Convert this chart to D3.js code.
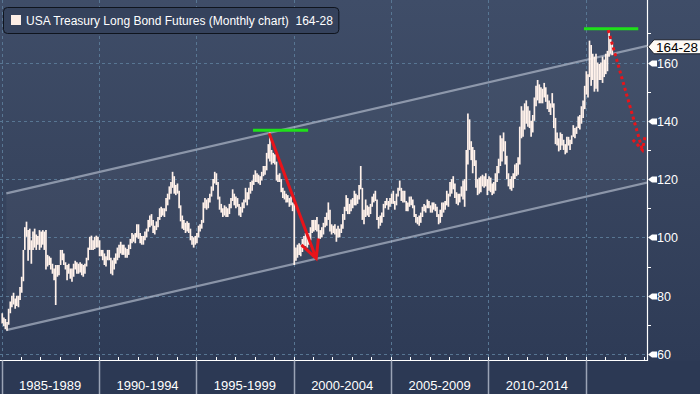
<!DOCTYPE html>
<html>
<head>
<meta charset="utf-8">
<script src="https://cdn.jsdelivr.net/npm/d3@7"></script>
<style>
  body { margin: 0; background: #2c3954; overflow: hidden; }
  svg { display: block; }
  text { font-family: "Liberation Sans", Arial, sans-serif; }
</style>
</head>
<body>
<div id="chart"></div>
<script>
// monthly high / low, one row per year, Jan 1985 .. May 2016
var startYear = 1985;
var highs = [
  74,72.5,72,71,75.5,78,80,81,79,80,80,83,
  86.5,95.7,103.5,105.4,102.5,103,99,102,103,101,100.5,102.5,
  102,102.5,102,102.5,94,93.5,93,91,89.3,90.5,90.5,90.5,
  95.7,95.7,94.5,91.5,90.5,91,89.3,89.3,91,92,91.5,91,
  91.5,91,90.5,91,93,96.5,100.2,100.6,99,100.2,100.6,100.2,
  99,95.7,95.7,94.5,93.5,95.7,95.7,93,92.2,93,94.5,96.5,
  97.5,98.5,97.5,97.5,96.5,96,97.5,99.5,101.5,101,101.5,104.5,
  104.5,101.5,100.5,100.5,102,103,106,107.5,108,106,104,105.5,
  107,110,110.5,110,110,113.5,115,117.5,119,122.5,121,118,
  118.5,116,111,107.5,106,105,105.5,105,103,100.5,100,100.5,
  101.5,104,104.5,106,112,113.5,113,113.5,115,117.5,120,122.5,
  122,119,114,111.5,110,111,110.5,110,111.5,113.5,116.5,115,
  114,113.5,111.5,110.5,112,113,117,115.5,117,119,119.5,121.5,
  123,122,121.5,121,122.5,124.5,124.5,129,132,136,130,129,
  128.5,126,121.5,122,120,117,116,115,114.5,113.5,114,112,
  111.5,96.5,97.5,98,97.5,99.5,100.5,101.5,100.5,101.5,103.5,106,
  106,106,107,104.5,102.5,103.5,105,107,108.5,112,109.5,104.5,
  104,104.5,103,104,103,104.5,108,110.5,114.5,113.5,111.5,113,
  113.5,116,115,114.5,118,124.5,117,109.5,113,111,110.5,111.5,
  114,115,116,113,107,107.5,108.5,111.5,112.5,113.5,112.5,113.5,
  115,116,112.5,115,117,119.5,117,116,116,112.5,112,114,
  114,113,111,108,107,107.5,108.5,110.5,111.5,111,113,112.5,
  111,112,112,111.5,110.5,108,109.5,112,112,112.5,116,115,
  119,120,121,118.5,115.5,115,115,117.5,119.5,120,130,142.5,
  140.5,133,131,130,126.5,120,120.5,121,121.5,121,122,120,
  121,120.5,118.5,119,122,124.5,127,135,134,136,133,128,
  122,120,121,122,125,125.5,127.5,138,145,143.5,146,147,
  145,143.5,140,142,148,152,154,152.5,151.5,151,153,151.5,
  149,147,146,149.5,146,141,136,134,136,135.5,133.5,132,
  134.5,134.5,133.5,135,138.5,137.5,138,141.5,142,145,147,152,
  157,156,167.5,166,163,162,163,160,159.5,160,162,161,
  163,164,171.5,168,167
];
var lows = [
  70.5,69.5,68.5,68,70,74,76,77,75.5,76.5,76,78.5,
  81,85,95.7,100.2,92,95.7,91,95.7,96.5,95.7,97.5,95.7,
  96.5,97.5,95.7,89,90,90.5,89,87.5,85.3,76.8,86.5,87,
  90.5,92.2,90.5,89,85.3,87.5,85.8,84.8,86.5,89,87.5,87.5,
  88,87,86.5,87.5,90,92.2,95.7,95.7,95.7,96,96.5,96.5,
  93.5,93.5,92.2,90.5,90,92.2,92.2,87.5,87,89,91,92.2,
  93,94.5,94,94,93,93,94,96,98,98.5,98,100,
  99.5,98,97.5,97.5,99,100,102,103.5,104,101.5,101,102.5,
  103.5,106,107,107.5,107,109,111,113,115,117,115,114.5,
  115,110,105.5,103,102.5,101.5,102,101.5,99,97.5,96.5,97.5,
  98,100,102,103,105,110,109.5,110,112,114,116,118.5,
  118,113,109.5,108.5,107,107.5,107,107,108,110,112.5,111,
  110,110.5,107.5,107,108.5,110,112,111,113,115,116,118,
  119,119,118.5,118,119.5,121,121.5,123,127,126,125,125.5,
  125,119.5,119,119,115.5,113.5,113,112,112,110.5,111,109,
  90.5,92,93,94,93.5,95,96,97,96.5,97.5,99,101.5,
  102,102.5,102,99.5,99.5,100,101,103.5,104,106,102,101,
  101.5,101,98.5,100,100,101.5,103,106,109,108,108,109,
  110,111,111,111.5,113,116.5,106,104.5,107,107.5,107,108,
  110.5,112,112.5,106,103,104,105,107,110,111,109.5,110.5,
  111.5,111.5,109.5,111,114,116,112.5,112,112,109,109,110.5,
  111,110,107,105,104.5,104,105,107,109,108.5,110,110,
  108.5,108.5,109.5,109,107,104.5,105,107,108.5,109.5,111,110.5,
  114,115,116.5,113.5,111.5,111,112,114,113,110.5,116,125,
  130,126.5,122,124.5,117,114.5,115,115.5,117.5,117,117.5,114.5,
  116,115.5,114.5,115,116,119,122,124.5,126,129.5,125,120,
  117.5,116.5,116,117,120,121,121.5,125,134,134.5,137,139,
  138,137.5,134.5,136,140,145,147,146,146,146,148,146.5,
  144,143,142,144.5,137.5,132,131.5,129.5,130,131.5,130,128.5,
  129,131.5,130,132,134.5,134,135.5,137.5,137,139,141,144,
  149,148,155,152,154,150,151,150,154,154,153,155,
  156,157,162,163,162.5
];

var yTicks = [60, 80, 100, 120, 140, 160];
var yMinor = [70, 90, 110, 130, 150, 170];
var periodStarts = [1985, 1990, 1995, 2000, 2005, 2010, 2015];
var periodLabels = ["1985-1989", "1990-1994", "1995-1999", "2000-2004", "2005-2009", "2010-2014", ""];
var legendText = "USA Treasury Long Bond Futures (Monthly chart)  164-28";
var lastPrice = 164.875, lastLabel = "164-28";

// trend channel and annotations (date, value)
var channelUpper = [[new Date(1985, 3, 1), 115.1], [new Date(2018, 2, 1), 165.7]];
var channelLower = [[new Date(1985, 3, 1), 68.2], [new Date(2018, 2, 1), 118.8]];
var topLines = [
  [[new Date(1997, 11, 1), 136.8], [new Date(2000, 9, 1), 136.8]],
  [[new Date(2014, 11, 1), 171.6], [new Date(2017, 8, 15), 171.6]]
];
var arrows = [
  { from: [new Date(1998, 9, 1), 135.7], to: [new Date(2001, 2, 1), 92.8], dotted: false, head: 20 },
  { from: [new Date(2016, 2, 1), 171.1], to: [new Date(2017, 11, 1), 130], dotted: true, head: 14 }
];

var W = 700, H = 394, plotR = 647, axisY = 360.5;

var svg = d3.select("#chart").append("svg")
    .attr("width", W)
    .attr("height", H);

var defs = svg.append("defs");
var grad = defs.append("linearGradient")
    .attr("id", "bg").attr("x1", 0).attr("y1", 0).attr("x2", 0).attr("y2", 1);
grad.append("stop").attr("offset", "0%").attr("stop-color", "#3f4d68");
grad.append("stop").attr("offset", "45%").attr("stop-color", "#38455f");
grad.append("stop").attr("offset", "100%").attr("stop-color", "#2e3b56");
defs.append("clipPath").attr("id", "plotclip")
  .append("rect").attr("x", 0).attr("y", 0).attr("width", plotR).attr("height", axisY);

svg.append("rect").attr("width", W).attr("height", H).attr("fill", "#2c3954");
svg.append("rect").attr("width", W).attr("height", axisY).attr("fill", "url(#bg)");

var x = d3.scaleTime()
    .domain([new Date(1985, 0, 1), new Date(2020, 0, 1)])
    .range([1.5, 1.5 + 35 * 19.47]);
var y = d3.scaleLinear()
    .domain([60, 160])
    .range([354, 62.5]);

var plot = svg.append("g").attr("clip-path", "url(#plotclip)");

// channel shading
plot.append("path")
    .attr("d", "M" + x(channelUpper[0][0]) + "," + y(channelUpper[0][1]) +
               "L" + x(channelUpper[1][0]) + "," + y(channelUpper[1][1]) +
               "L" + x(channelLower[1][0]) + "," + y(channelLower[1][1]) +
               "L" + x(channelLower[0][0]) + "," + y(channelLower[0][1]) + "Z")
    .attr("fill", "#ffffff")
    .attr("fill-opacity", 0.035);

// grid
plot.selectAll(".hgrid")
    .data(yTicks)
    .enter().append("line")
    .attr("x1", 0).attr("x2", plotR)
    .attr("y1", function(d) { return Math.round(y(d)) + 0.5; })
    .attr("y2", function(d) { return Math.round(y(d)) + 0.5; })
    .attr("stroke", "#587693")
    .attr("stroke-dasharray", "3,3");

plot.selectAll(".vgrid")
    .data(periodStarts)
    .enter().append("line")
    .attr("x1", function(d) { return Math.round(x(new Date(d, 0, 1))) + 0.5; })
    .attr("x2", function(d) { return Math.round(x(new Date(d, 0, 1))) + 0.5; })
    .attr("y1", 0).attr("y2", axisY)
    .attr("stroke", "#587693")
    .attr("stroke-dasharray", "3,3");

// channel lines
[channelUpper, channelLower].forEach(function(c) {
  plot.append("line")
      .attr("x1", x(c[0][0])).attr("y1", y(c[0][1]))
      .attr("x2", x(c[1][0])).attr("y2", y(c[1][1]))
      .attr("stroke", "#c3ccda")
      .attr("stroke-opacity", 0.6)
      .attr("stroke-width", 2.2);
});

// monthly bars
plot.selectAll(".bar")
    .data(highs)
    .enter().append("line")
    .attr("class", "bar")
    .attr("x1", function(d, i) { return x(new Date(startYear, i, 15)); })
    .attr("x2", function(d, i) { return x(new Date(startYear, i, 15)); })
    .attr("y1", function(d) { return y(d); })
    .attr("y2", function(d, i) { return y(lows[i]); })
    .attr("stroke", "#fff1ea")
    .attr("stroke-width", 1.7);

// green top lines
topLines.forEach(function(l) {
  svg.append("line")
      .attr("x1", x(l[0][0])).attr("y1", y(l[0][1]))
      .attr("x2", x(l[1][0])).attr("y2", y(l[1][1]))
      .attr("stroke", "#1fe01a")
      .attr("stroke-width", 3);
});

// red arrows
arrows.forEach(function(a) {
  var x1 = x(a.from[0]), y1 = y(a.from[1]), x2 = x(a.to[0]), y2 = y(a.to[1]);
  var ang = Math.atan2(y1 - y2, x1 - x2);
  var spread = 27 * Math.PI / 180;
  var p = "M" + x1 + "," + y1 + "L" + x2 + "," + y2 +
          "M" + (x2 + a.head * Math.cos(ang - spread)) + "," + (y2 + a.head * Math.sin(ang - spread)) +
          "L" + x2 + "," + y2 +
          "L" + (x2 + a.head * Math.cos(ang + spread)) + "," + (y2 + a.head * Math.sin(ang + spread));
  svg.append("path")
      .attr("d", p)
      .attr("fill", "none")
      .attr("stroke", "#e8141a")
      .attr("stroke-width", 3)
      .attr("stroke-dasharray", a.dotted ? "3,3" : null);
});

// right axis
svg.append("line")
    .attr("x1", plotR + 0.5).attr("x2", plotR + 0.5)
    .attr("y1", 0).attr("y2", axisY + 0.5)
    .attr("stroke", "#ffffff").attr("stroke-width", 1.2);

svg.selectAll(".yminor")
    .data(yMinor)
    .enter().append("line")
    .attr("x1", plotR).attr("x2", plotR + 4)
    .attr("y1", function(d) { return Math.round(y(d)) + 0.5; })
    .attr("y2", function(d) { return Math.round(y(d)) + 0.5; })
    .attr("stroke", "#ffffff");

var yt = svg.selectAll(".ytick")
    .data(yTicks)
    .enter().append("g")
    .attr("transform", function(d) { return "translate(" + plotR + "," + Math.round(y(d)) + ")"; });
yt.append("path")
    .attr("d", "M1,0.5L5,-2.5L10,-2.5L10,3.5L5,3.5Z")
    .attr("fill", "#ffffff");
yt.append("text")
    .attr("x", 10)
    .attr("y", 4.5)
    .attr("fill", "#ffffff")
    .style("font-size", "12.5px")
    .text(function(d) { return d; });

// last price tag
var ly = y(lastPrice) - 1.5;
svg.append("path")
    .attr("d", "M" + (plotR + 1) + "," + ly +
               "L" + (plotR + 7) + "," + (ly - 7) +
               "L" + 703 + "," + (ly - 7) +
               "L" + 703 + "," + (ly + 7) +
               "L" + (plotR + 7) + "," + (ly + 7) + "Z")
    .attr("fill", "#fdfaf5")
    .attr("stroke", "#1a1f2a")
    .attr("stroke-width", 1);
svg.append("text")
    .attr("x", plotR + 9)
    .attr("y", ly + 5)
    .attr("fill", "#000000")
    .style("font-size", "13.5px")
    .text(lastLabel);

// bottom axis
svg.append("line")
    .attr("x1", 0).attr("x2", plotR + 1)
    .attr("y1", axisY).attr("y2", axisY)
    .attr("stroke", "#ffffff").attr("stroke-width", 1.2);

svg.selectAll(".xtick")
    .data(d3.range(1986, 2019))
    .enter().append("line")
    .attr("x1", function(d) { return Math.round(x(new Date(d, 0, 1))) + 0.5; })
    .attr("x2", function(d) { return Math.round(x(new Date(d, 0, 1))) + 0.5; })
    .attr("y1", axisY).attr("y2", axisY - 3.5)
    .attr("stroke", "#ffffff");

svg.selectAll(".divider")
    .data(periodStarts)
    .enter().append("line")
    .attr("x1", function(d) { return Math.round(x(new Date(d, 0, 1))) + 0.5; })
    .attr("x2", function(d) { return Math.round(x(new Date(d, 0, 1))) + 0.5; })
    .attr("y1", axisY).attr("y2", H)
    .attr("stroke", "#9ba4b6").attr("stroke-width", 1.5);

svg.selectAll(".xlabel")
    .data(periodStarts)
    .enter().append("text")
    .attr("x", function(d) { return (x(new Date(d, 0, 1)) + x(new Date(d + 5, 0, 1))) / 2; })
    .attr("y", 390)
    .attr("text-anchor", "middle")
    .attr("fill", "#ffffff")
    .style("font-size", "13px")
    .text(function(d, i) { return periodLabels[i]; });

// legend
var lg = svg.append("g");
var lbox = lg.append("rect")
    .attr("x", 3.5).attr("y", 7.5)
    .attr("height", 26).attr("rx", 4)
    .attr("fill", "#35425c")
    .attr("stroke", "#0f141d");
lg.append("rect")
    .attr("x", 11).attr("y", 15)
    .attr("width", 10).attr("height", 10)
    .attr("fill", "#fdeee6");
var lt = lg.append("text")
    .attr("x", 26).attr("y", 25)
    .attr("fill", "#ffffff")
    .style("font-size", "12px")
    .style("white-space", "pre")
    .text(legendText);
lbox.attr("width", 26 + lt.node().getComputedTextLength() + 6 - 3.5);
</script>
</body>
</html>
